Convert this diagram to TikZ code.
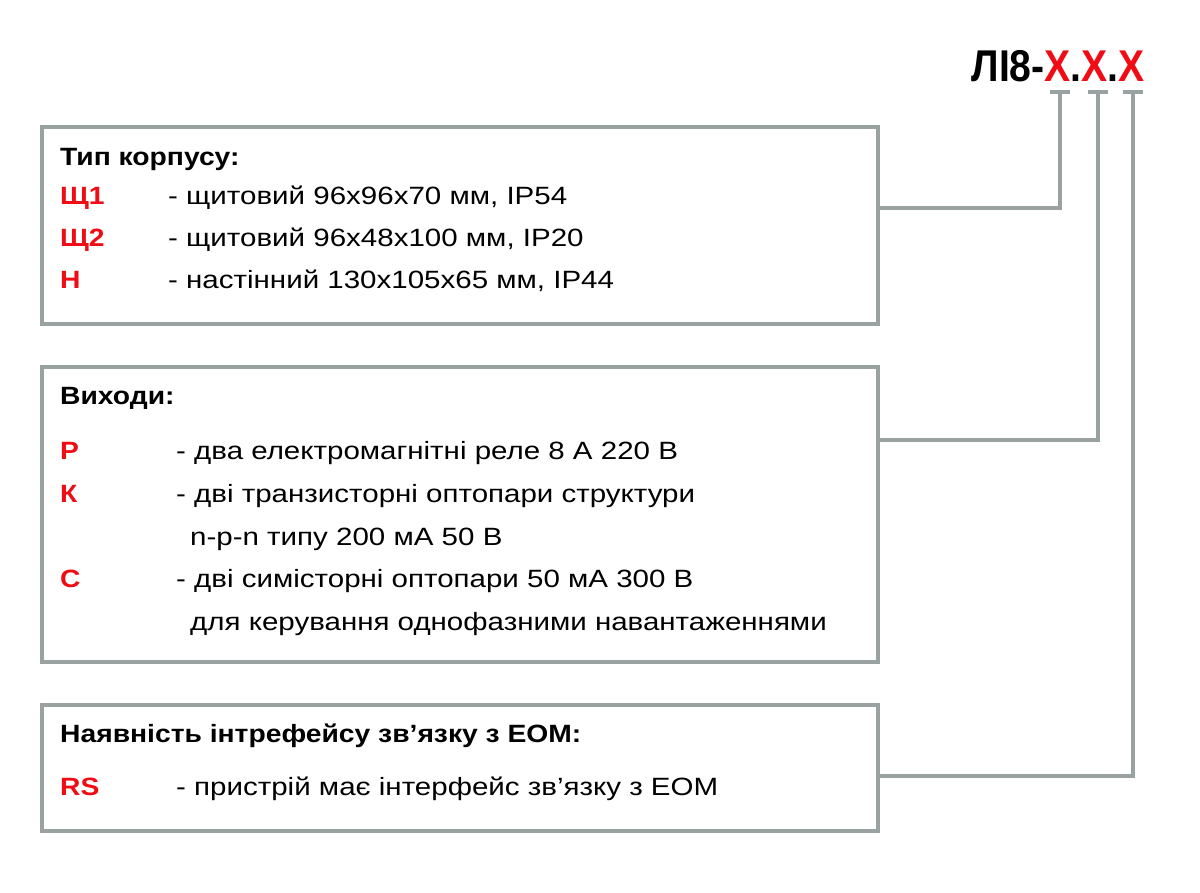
\documentclass[tikz,border=0pt]{standalone}
\usepackage{fontspec}
\setmainfont{Liberation Sans}
\definecolor{linegray}{RGB}{154,161,161}
\definecolor{codered}{RGB}{240,12,20}
\newcommand{\rt}[1]{\scalebox{1.18}[1]{#1}}
\newcommand{\bt}[1]{\scalebox{1.13}[1]{#1}}
\begin{document}
\begin{tikzpicture}[x=1pt,y=-1pt,
  box/.style={draw=linegray,line width=4pt,anchor=north west,minimum width=836pt,inner sep=0pt,fill=white},
  conn/.style={draw=linegray,line width=4pt},
  txt/.style={anchor=base west,inner sep=0pt,font=\fontsize{25}{30}\selectfont},
  head/.style={txt,font=\fontsize{25}{30}\selectfont\bfseries},
  code/.style={txt,font=\fontsize{25}{30}\selectfont\bfseries,text=codered}]
\useasboundingbox (0,0) rectangle (1200,893);
% title
\node[anchor=base east,inner sep=0pt] (title) at (1145,82)
  {\scalebox{0.88}[1]{\fontsize{44.5}{50}\selectfont\bfseries ЛІ8-\textcolor{codered}{X}.\textcolor{codered}{X}.\textcolor{codered}{X}}};
% boxes
\node[box,minimum height=197pt] (b1) at (40,125) {};
\node[box,minimum height=295pt] (b2) at (40,365) {};
\node[box,minimum height=126pt] (b3) at (40,703) {};
% connector anchors
\coordinate (k1) at (1060,92);
\coordinate (k2) at (1098,92);
\coordinate (k3) at (1133,92);
\coordinate (y1) at (0,208);
\coordinate (y2) at (0,440);
\coordinate (y3) at (0,776);
\draw[conn] (b1.east |- y1) -| (k1);
\draw[conn] (b2.east |- y2) -| (k2);
\draw[conn] (b3.east |- y3) -| (k3);
\draw[conn] ([xshift=-10pt]k1) -- ([xshift=10pt]k1);
\draw[conn] ([xshift=-10pt]k2) -- ([xshift=10pt]k2);
\draw[conn] ([xshift=-10pt]k3) -- ([xshift=10pt]k3);
% box 1
\node[head] (h1) at (60,166) {\bt{Тип корпусу:}};
\node[code] (a1) at (60,205) {\bt{Щ1}};
\node[txt] (t1) at (168,205) {\rt{- щитовий 96x96x70 мм, IP54}};
\node[code] (a2) at (60,247) {\bt{Щ2}};
\node[txt] (t2) at (168,247) {\rt{- щитовий 96x48x100 мм, IP20}};
\node[code] (a3) at (60,289) {\bt{Н}};
\node[txt] (t3) at (168,289) {\rt{- настінний 130x105x65 мм, IP44}};
% box 2
\node[head] (h2) at (60,405) {\bt{Виходи:}};
\node[code] (p1) at (60,459) {\bt{Р}};
\node[txt] (s1) at (176,459) {\rt{- два електромагнітні реле 8 А 220 В}};
\node[code] (p2) at (60,502) {\bt{К}};
\node[txt] (s2) at (176,502) {\rt{- дві транзисторні оптопари структури}};
\node[txt] (s3) at (190,545) {\rt{n-p-n типу 200 мА 50 В}};
\node[code] (p3) at (60,587) {\bt{С}};
\node[txt] (s4) at (176,587) {\rt{- дві симісторні оптопари 50 мА 300 В}};
\node[txt] (s5) at (190,630) {\rt{для керування однофазними навантаженнями}};
% box 3
\node[head] (h3) at (60,742) {\bt{Наявність інтрефейсу зв’язку з ЕОМ:}};
\node[code] (r1) at (60,795) {\bt{RS}};
\node[txt] (u1) at (176,795) {\rt{- пристрій має інтерфейс зв’язку з ЕОМ}};
\end{tikzpicture}
\end{document}
